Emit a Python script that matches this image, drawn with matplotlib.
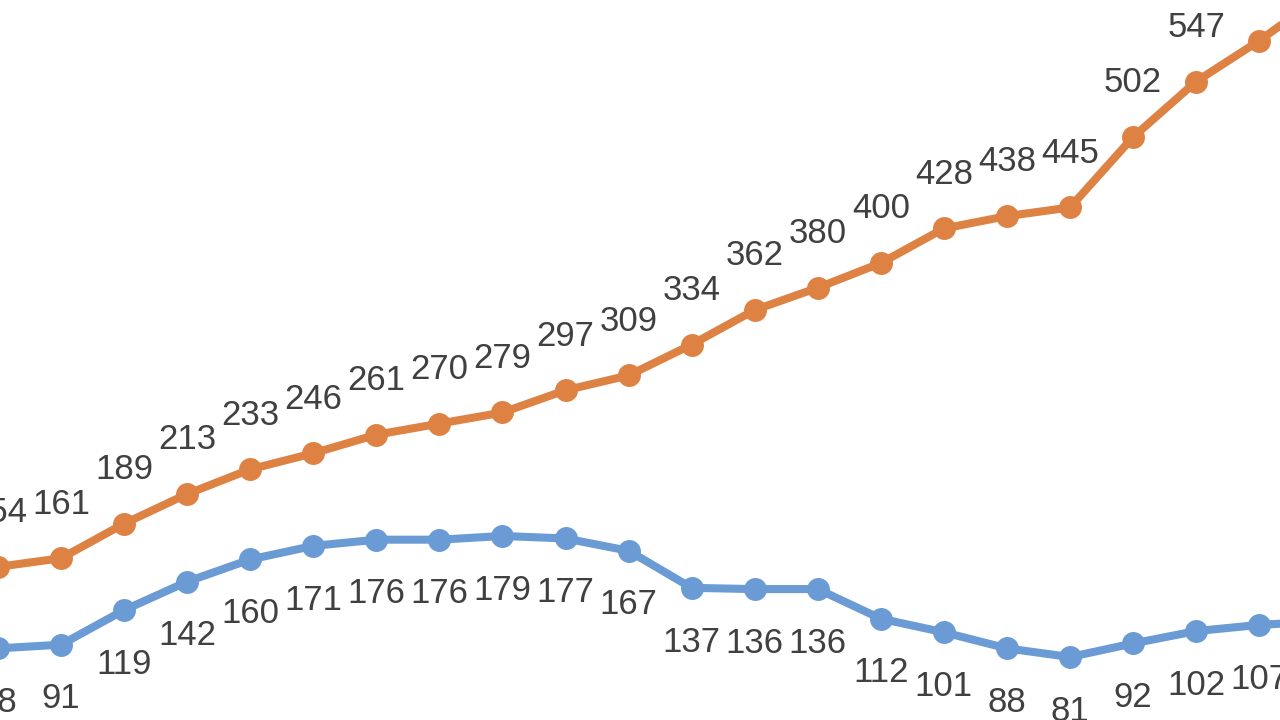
import numpy as np
import matplotlib
matplotlib.use("Agg")
import matplotlib.pyplot as plt

ORANGE = "#DE8244"
BLUE = "#6A9BD4"
TEXT = "#404040"

orange_vals = [154, 161, 189, 213, 233, 246, 261, 270, 279, 297, 309,
               334, 362, 380, 400, 428, 438, 445, 502, 547, 580, 617]
blue_vals = [88, 91, 119, 142, 160, 171, 176, 176, 179, 177, 167,
             137, 136, 136, 112, 101, 88, 81, 92, 102, 107, 110]

plt.rcParams["font.family"] = ["Liberation Sans", "DejaVu Sans"]

fig = plt.figure(figsize=(12.8, 7.2), dpi=100)
ax = fig.add_axes([0, 0, 1, 1])
x = np.arange(len(orange_vals))

for vals, color, dy in [(orange_vals, ORANGE, 39), (blue_vals, BLUE, -39)]:
    ax.plot(x, vals, color=color, lw=5.8, marker="o", ms=15.5,
            solid_capstyle="round", clip_on=True)
    for xi, v in zip(x, vals):
        ax.annotate(f"{v}", (xi, v), xytext=(0, dy), textcoords="offset points",
                    ha="center", va="center", fontsize=25, color=TEXT,
                    annotation_clip=False)

ax.set_xlim(0.0317, 20.33)
ax.set_ylim(30, 613)
ax.axis("off")

fig.savefig("out.png", dpi=100)
